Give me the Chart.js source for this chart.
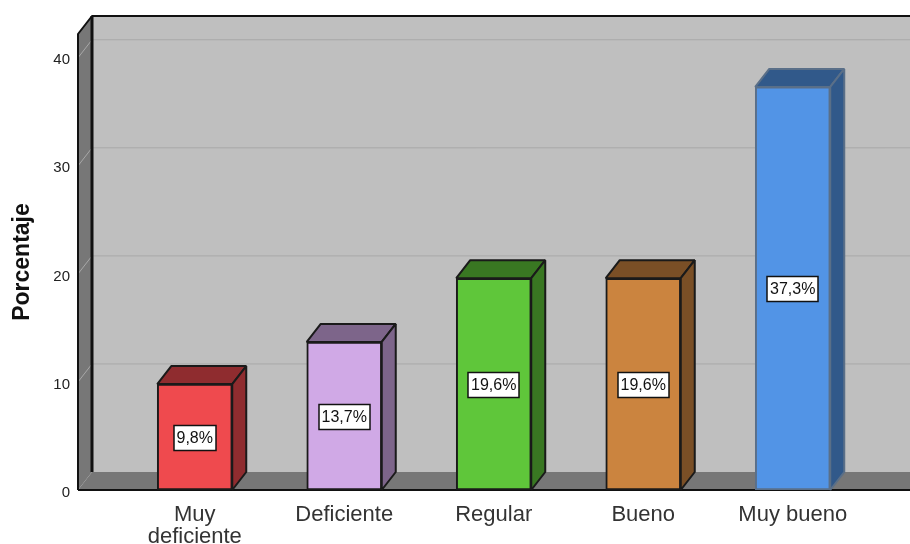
<!DOCTYPE html>
<html>
<head>
<meta charset="utf-8">
<script src="https://cdn.jsdelivr.net/npm/chart.js@4/dist/chart.umd.min.js"></script>
<style>
  body { margin: 0; background: #fff; }
  canvas { display: block; }
</style>
</head>
<body>
<canvas id="barChart" width="910" height="544"></canvas>
<script>
const categories = [["Muy", "deficiente"], "Deficiente", "Regular", "Bueno", "Muy bueno"];
const percentages = [9.8, 13.7, 19.6, 19.6, 37.3];
const frontColors = ["#ef4a4e", "#d0a9e6", "#5fc63a", "#cb843f", "#5294e6"];
const shadeColors = ["#8f2c2f", "#7d658a", "#397722", "#7a4f26", "#31598a"];
const edgeColors = ["#1a1a1a", "#1a1a1a", "#1a1a1a", "#1a1a1a", "#5a6f88"];

const DEPTH_X = 14;
const DEPTH_Y = 18;
const WALL_X = 78;

function fillPoly(ctx, pts, fill, stroke, lineWidth) {
    ctx.beginPath();
    pts.forEach((p, i) => i ? ctx.lineTo(p[0], p[1]) : ctx.moveTo(p[0], p[1]));
    ctx.closePath();
    if (fill) {
        ctx.fillStyle = fill;
        ctx.fill();
    }
    if (stroke) {
        ctx.strokeStyle = stroke;
        ctx.lineWidth = lineWidth;
        ctx.stroke();
    }
}

// Back wall, side wall, floor and grid lines of the 3D box
const boxPlugin = {
    id: "box",
    beforeDatasetsDraw(chart) {
        const ctx = chart.ctx;
        const y = chart.scales.y;
        const top = chart.chartArea.top;
        const base = chart.chartArea.bottom;
        const right = chart.width;
        const backX = WALL_X + DEPTH_X;

        ctx.save();
        ctx.lineJoin = "bevel";
        fillPoly(ctx, [[backX, top - DEPTH_Y], [right, top - DEPTH_Y], [right, base - DEPTH_Y], [backX, base - DEPTH_Y]], "#bfbfbf");
        fillPoly(ctx, [[WALL_X, base], [backX, base - DEPTH_Y], [right, base - DEPTH_Y], [right, base]], "#777777");
        fillPoly(ctx, [[WALL_X, top], [backX, top - DEPTH_Y], [backX, base - DEPTH_Y], [WALL_X, base]], "#777777");

        ctx.strokeStyle = "#a8a8a8";
        ctx.lineWidth = 1;
        y.ticks.forEach(t => {
            if (t.value === 0) return;
            const py = y.getPixelForValue(t.value);
            ctx.beginPath();
            ctx.moveTo(WALL_X, py);
            ctx.lineTo(backX, py - DEPTH_Y);
            ctx.lineTo(right, py - DEPTH_Y);
            ctx.stroke();
        });

        ctx.strokeStyle = "#111";
        ctx.lineWidth = 2;
        ctx.beginPath();
        ctx.moveTo(WALL_X, base);
        ctx.lineTo(WALL_X, top);
        ctx.lineTo(backX, top - DEPTH_Y);
        ctx.lineTo(right, top - DEPTH_Y);
        ctx.moveTo(WALL_X, base);
        ctx.lineTo(right, base);
        ctx.stroke();
        ctx.lineWidth = 3;
        ctx.beginPath();
        ctx.moveTo(backX, top - DEPTH_Y);
        ctx.lineTo(backX, base - DEPTH_Y);
        ctx.stroke();

        // top and side faces sit behind the bar fronts
        const meta = chart.getDatasetMeta(0);
        meta.data.forEach((bar, i) => {
            const left = bar.x - bar.width / 2;
            const barRight = bar.x + bar.width / 2;
            fillPoly(ctx, [[left, bar.y], [left + DEPTH_X, bar.y - DEPTH_Y], [barRight + DEPTH_X, bar.y - DEPTH_Y], [barRight, bar.y]], shadeColors[i], edgeColors[i], 2);
            fillPoly(ctx, [[barRight, bar.y], [barRight + DEPTH_X, bar.y - DEPTH_Y], [barRight + DEPTH_X, bar.base - DEPTH_Y], [barRight, bar.base]], shadeColors[i], edgeColors[i], 2);
        });
        ctx.restore();
    },
    afterDatasetsDraw(chart) {
        const ctx = chart.ctx;
        const meta = chart.getDatasetMeta(0);
        ctx.save();
        ctx.font = "16px 'Liberation Sans', Arial, sans-serif";
        ctx.textAlign = "center";
        ctx.textBaseline = "middle";
        meta.data.forEach((bar, i) => {
            const text = percentages[i].toFixed(1).replace(".", ",") + "%";
            const w = Math.round(ctx.measureText(text).width) + 6;
            const h = 25;
            const cy = Math.round((bar.y + bar.base) / 2) + 1;
            const x = Math.round(bar.x - w / 2);
            ctx.fillStyle = "#fff";
            ctx.fillRect(x, cy - h / 2, w, h);
            ctx.strokeStyle = "#111";
            ctx.lineWidth = 1.5;
            ctx.strokeRect(x, cy - h / 2, w, h);
            ctx.fillStyle = "#111";
            ctx.fillText(text, bar.x, cy + 1);
        });
        ctx.restore();
    }
};

// fixed axis boxes, no extra room reserved for half of a tick label
function fitX(scale) {
    scale.height = 54;
    scale.paddingTop = 0;
    scale.paddingBottom = 0;
}

function fitY(scale) {
    scale.width = 120;
    scale.paddingTop = 0;
    scale.paddingBottom = 0;
}

new Chart(document.getElementById("barChart"), {
    type: "bar",
    data: {
        labels: categories,
        datasets: [{
            data: percentages,
            backgroundColor: frontColors,
            borderColor: edgeColors,
            borderWidth: 2,
            barThickness: 75,
            borderSkipped: false
        }]
    },
    options: {
        responsive: false,
        animation: false,
        layout: { padding: { top: 34, right: 42.5, left: 0, bottom: 0 } },
        plugins: {
            legend: { display: false },
            tooltip: { enabled: false }
        },
        scales: {
            x: {
                afterFit: fitX,
                grid: { display: false },
                border: { display: false },
                ticks: {
                    color: "#333",
                    font: { family: "'Liberation Sans', Arial, sans-serif", size: 22, lineHeight: 1 },
                    maxRotation: 0,
                    autoSkip: false,
                    padding: 6
                }
            },
            y: {
                min: 0,
                max: 42.2,
                afterFit: fitY,
                grid: { display: false },
                border: { display: false },
                title: {
                    display: true,
                    text: "Porcentaje",
                    color: "#111",
                    font: { family: "'Liberation Sans', Arial, sans-serif", size: 23, weight: "bold" },
                    padding: { top: 9, bottom: 0 }
                },
                ticks: {
                    stepSize: 10,
                    includeBounds: false,
                    labelOffset: 2.5,
                    color: "#222",
                    font: { family: "'Liberation Sans', Arial, sans-serif", size: 15 },
                    padding: 42
                }
            }
        }
    },
    plugins: [boxPlugin]
});
</script>
</body>
</html>
